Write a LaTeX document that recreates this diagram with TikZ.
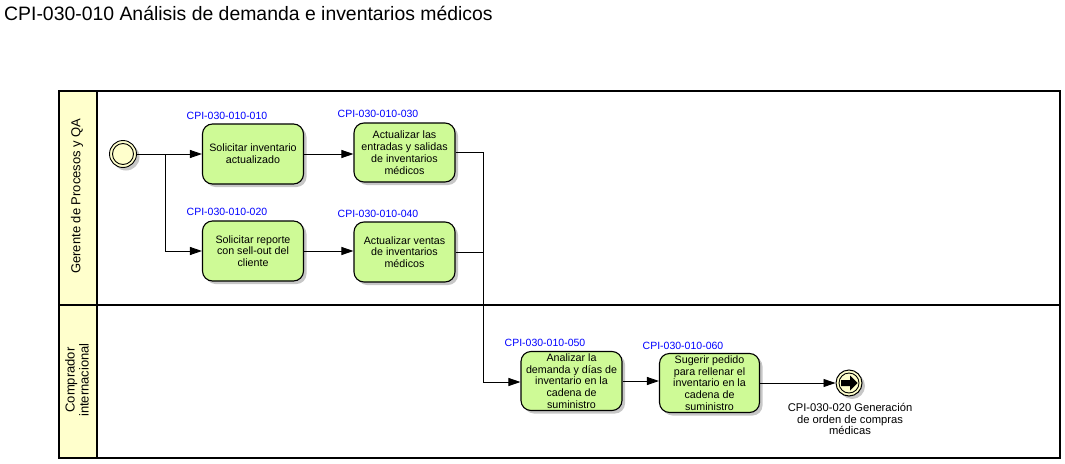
\documentclass[tikz,border=0pt]{standalone}
\usepackage{fontspec}
\setmainfont{Liberation Sans}
\usetikzlibrary{arrows.meta,shadows}
\definecolor{laneyellow}{RGB}{255,255,204}
\definecolor{taskgreen}{RGB}{206,250,150}
\definecolor{evtyellow}{RGB}{255,255,204}
\definecolor{idblue}{RGB}{0,0,255}
\begin{document}
\begin{tikzpicture}[x=1pt,y=-1pt,
  shd/.style={drop shadow={shadow xshift=3pt,shadow yshift=-3pt,fill=black!22,opacity=1}},
  task/.style={draw=black,line width=1.1pt,fill=taskgreen,rounded corners=10pt,
    minimum width=101pt,minimum height=60pt,inner sep=0pt,align=center,
    font=\fontsize{10.7}{11.8}\selectfont,shd},
  tid/.style={text=idblue,inner sep=0pt,font=\fontsize{10.5}{12}\selectfont},
  arr/.style={draw=black,line width=0.9pt,-{Triangle[length=12pt,width=8pt]}},
  ln/.style={draw=black,line width=0.9pt},
  lanelbl/.style={rotate=90,align=center,inner sep=0pt,font=\fontsize{13}{14}\selectfont}]
\useasboundingbox (0,0) rectangle (1065,463);
% title
\node[anchor=west,inner sep=0pt,font=\fontsize{19.4}{22}\selectfont] (title) at (4,13) {CPI-030-010 Análisis de demanda e inventarios médicos};
% pool and lanes
\fill[laneyellow] (59,91) rectangle (97,458);
\draw[line width=1.3pt] (59,91) rectangle (1060,458);
\draw[line width=1.1pt] (97,91) -- (97,458);
\draw[line width=2.6pt] (59,305) -- (1060,305);
\node[lanelbl] (lane1) at (77,196) {Gerente de Procesos y QA};
\node[lanelbl] (lane2) at (77,380) {Comprador\\internacional};
% start event
\node[circle,draw=black,line width=0.9pt,fill=evtyellow,minimum size=27pt,inner sep=0pt,shd] (start) at (123,154) {};
\draw[line width=0.9pt] (start.center) circle (10.5pt);
% tasks
\node[task] (t1) at (253,154) {Solicitar inventario\\actualizado};
\node[task] (t2) at (253,251) {Solicitar reporte\\con sell-out del\\cliente};
\node[task,minimum height=59pt] (t3) at (404.5,152.5) {Actualizar las\\entradas y salidas\\de inventarios\\médicos};
\node[task] (t4) at (404.5,252) {Actualizar ventas\\de inventarios\\médicos};
\node[task,minimum height=59pt] (t5) at (571.5,381) {Analizar la\\demanda y días de\\inventario en la\\cadena de\\suministro};
\node[task,minimum width=100pt,minimum height=59pt] (t6) at (709.5,383) {Sugerir pedido\\para rellenar el\\inventario en la\\cadena de\\suministro};
% ids
\node[tid] (i1) at (227,116) {CPI-030-010-010};
\node[tid] (i2) at (227,212) {CPI-030-010-020};
\node[tid] (i3) at (378,114) {CPI-030-010-030};
\node[tid] (i4) at (378,214) {CPI-030-010-040};
\node[tid] (i5) at (545,343) {CPI-030-010-050};
\node[tid] (i6) at (683,346) {CPI-030-010-060};
% end event
\node[circle,draw=black,line width=1pt,fill=evtyellow,minimum size=26pt,inner sep=0pt,shd] (end) at (849,383) {};
\draw[line width=0.9pt] (end.center) circle (10pt);
\fill[black] ([shift={(-8,-3)}]end.center) -- ([shift={(1,-3)}]end.center) -- ([shift={(1,-7.5)}]end.center)
  -- ([shift={(8.5,0)}]end.center) -- ([shift={(1,7.5)}]end.center) -- ([shift={(1,3)}]end.center)
  -- ([shift={(-8,3)}]end.center) -- cycle;
\node[align=center,inner sep=0pt,font=\fontsize{11.2}{11.4}\selectfont] (endlbl) at (850,419) {CPI-030-020 Generación\\de orden de compras\\médicas};
% connectors
\coordinate (sp) at (165,154);
\coordinate (jn) at (483,382);
\draw[arr] (start) -- (t1);
\draw[arr] (sp) |- (t2);
\draw[arr] (t1.east) -- (t1.east -| t3.west);
\draw[arr] (t2.east) -- (t2.east -| t4.west);
\draw[ln] (t3.east) -| (jn);
\draw[ln] (t4.east) -- (t4.east -| jn);
\draw[arr] (jn) -- (jn -| t5.west);
\draw[arr] (t5.east) -- (t5.east -| t6.west);
\draw[arr] (t6) -- (end);
\end{tikzpicture}
\end{document}
